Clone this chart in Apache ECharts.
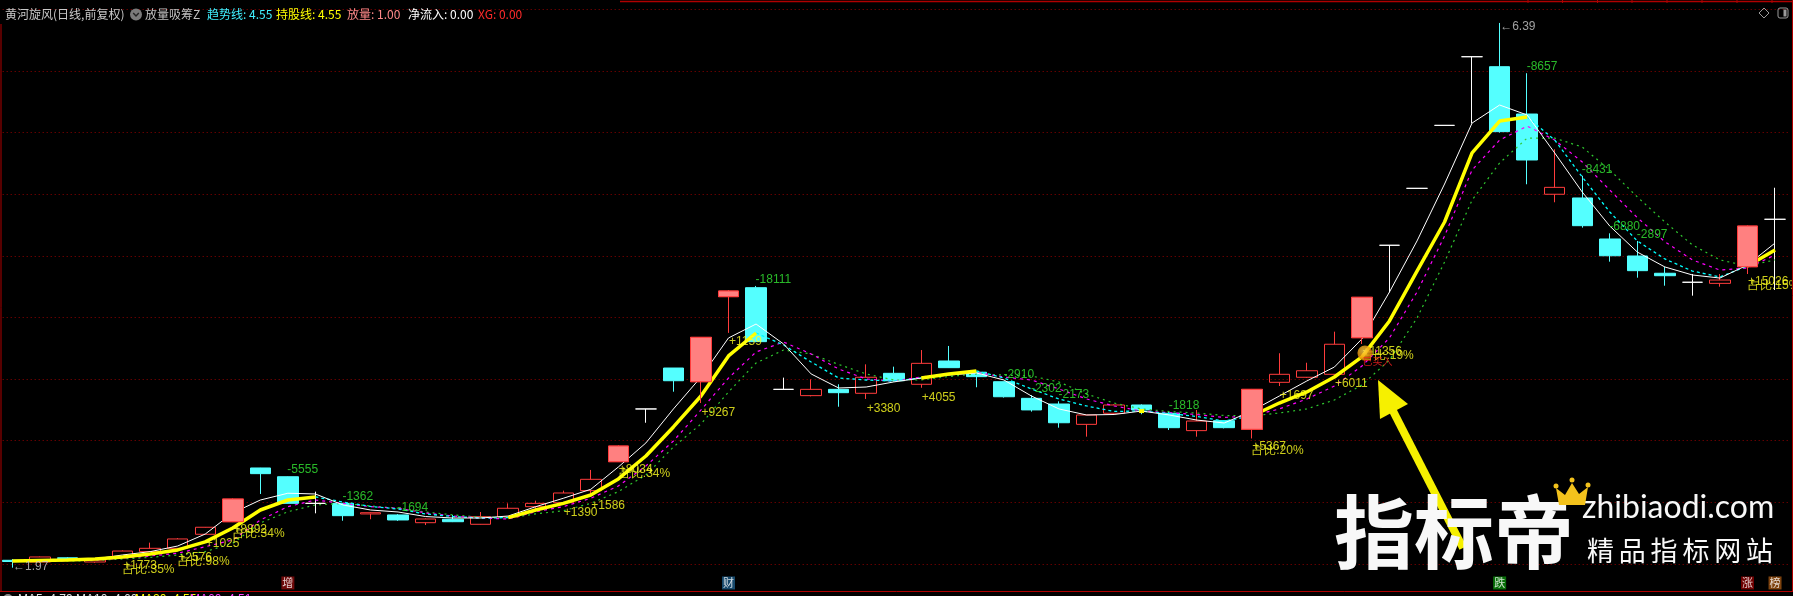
<!DOCTYPE html>
<html><head><meta charset="utf-8">
<script src="https://cdn.jsdelivr.net/npm/echarts@6/dist/echarts.min.js"></script>
<style>html,body{margin:0;padding:0;background:#000;overflow:hidden}#c{width:1793px;height:596px}</style>
</head><body><div id="c"></div>
<script>
// ---- data ----
const categories = ['1','2','3','4','5','6','7','8','9','10','11','12','13','14','15','16','17','18','19','20','21','22','23','24','25','26','27','28','29','30','31','32','33','34','35','36','37','38','39','40','41','42','43','44','45','46','47','48','49','50','51','52','53','54','55','56','57','58','59','60','61','62','63','64','65'];
const openP  = [2.03,2.016,2.05,2.016,2.057,2.10,2.127,2.241,2.343,2.779, 2.708,2.492,2.492,2.406,2.398,2.335,2.363,2.322,2.381,2.465, 2.497,2.595,2.83,3.258,3.59,3.479,4.169,4.242,3.417,3.366, 3.417,3.385,3.547,3.458,3.647,3.556,3.479,3.344,3.298,3.133, 3.223,3.29,3.223,3.082,3.163,3.093,3.474,3.515,3.539,3.836, 4.586,5.048,5.559,6.116,6.035,5.651,5.0,4.97,4.637,4.499, 4.359,4.286,4.277,4.412,4.797];
const closeP = [2.02,2.057,2.045,2.032,2.105,2.127,2.203,2.298,2.527,2.733, 2.492,2.492,2.392,2.416,2.357,2.365,2.343,2.384,2.452,2.492, 2.576,2.687,2.957,3.258,3.487,3.839,4.215,3.804,3.417,3.417, 3.39,3.515,3.487,3.628,3.593,3.52,3.357,3.25,3.146,3.209, 3.29,3.25,3.106,3.16,3.106,3.417,3.539,3.568,3.783,4.164, 4.586,5.048,5.559,6.116,5.508,5.278,5.056,4.745,4.501,4.38, 4.339,4.286,4.304,4.742,4.797];
const lowP   = [1.97,2.01,2.04,2.01,2.05,2.10,2.12,2.241,2.34,2.568, 2.49,2.411,2.351,2.363,2.35,2.316,2.34,2.32,2.38,2.446, 2.495,2.55,2.83,3.146,3.398,3.306,3.877,3.80,3.417,3.36, 3.276,3.339,3.48,3.43,3.59,3.434,3.35,3.236,3.106,3.033, 3.22,3.215,3.087,3.033,3.10,3.02,3.444,3.51,3.539,3.785, 4.204,5.048,5.559,5.576,5.50,5.081,4.935,4.729,4.453,4.323, 4.258,4.177,4.25,4.353,4.223];
const highP  = [2.04,2.06,2.055,2.035,2.11,2.173,2.21,2.30,2.53,2.78, 2.71,2.587,2.495,2.42,2.405,2.37,2.398,2.422,2.492,2.514, 2.595,2.763,2.96,3.258,3.59,3.84,4.22,4.256,3.512,3.498, 3.458,3.62,3.601,3.736,3.769,3.56,3.48,3.37,3.32,3.21, 3.295,3.295,3.235,3.25,3.165,3.42,3.71,3.633,3.885,4.165, 4.586,5.048,5.559,6.116,6.39,5.982,5.365,5.15,4.683,4.621, 4.412,4.353,4.353,4.745,5.053];
const whiteLine   = [2.024,2.028,2.032,2.041,2.073,2.100,2.146,2.243,2.414,2.519, 2.574,2.568,2.479,2.438,2.422,2.385,2.373,2.373,2.389,2.465, 2.533,2.606,2.787,2.982,3.258,3.517,3.834,3.947,3.785,3.542, 3.428,3.436,3.477,3.509,3.533,3.550,3.493,3.363,3.258,3.209, 3.213,3.241,3.209,3.168,3.144,3.241,3.363,3.485,3.598,3.826, 4.207,4.621,5.083,5.578,5.724,5.643,5.335,5.018,4.742,4.531, 4.410,4.345,4.320,4.426,4.604];
const trendLine   = [2.024,2.028,2.032,2.041,2.057,2.081,2.114,2.179,2.292,2.438, 2.519,2.544,2.503,2.467,2.446,2.406,2.385,2.373,2.376,2.438, 2.492,2.560,2.690,2.876,3.112,3.363,3.688,3.874,3.777,3.639, 3.509,3.493,3.485,3.509,3.542,3.566,3.509,3.420,3.339,3.282, 3.238,3.241,3.221,3.197,3.160,3.201,3.306,3.396,3.517,3.680, 3.972,4.377,4.775,5.335,5.594,5.627,5.440,5.140,4.856,4.621, 4.475,4.377,4.329,4.418,4.548];
const magentaLine = [2.020,2.024,2.028,2.032,2.049,2.065,2.087,2.140,2.195,2.357, 2.465,2.519,2.492,2.465,2.452,2.414,2.389,2.373,2.365,2.424, 2.465,2.533,2.633,2.795,2.998,3.250,3.509,3.720,3.801,3.704, 3.582,3.501,3.485,3.517,3.546,3.554,3.517,3.493,3.420,3.339, 3.282,3.241,3.228,3.213,3.189,3.201,3.258,3.339,3.444,3.606, 3.834,4.207,4.661,5.197,5.440,5.553,5.440,5.262,5.034,4.810, 4.615,4.467,4.385,4.402,4.507];
const greenLine   = [2.020,2.024,2.024,2.028,2.041,2.053,2.073,2.100,2.168,2.333, 2.424,2.479,2.492,2.471,2.452,2.422,2.398,2.381,2.373,2.406, 2.432,2.492,2.587,2.722,2.949,3.136,3.396,3.631,3.736,3.704, 3.619,3.542,3.493,3.493,3.521,3.542,3.533,3.525,3.477,3.379, 3.306,3.258,3.237,3.225,3.205,3.201,3.225,3.258,3.331,3.452, 3.655,3.996,4.450,4.953,5.254,5.456,5.456,5.383,5.197,4.978, 4.775,4.589,4.467,4.418,4.467];
const pinkCandles = [8,22,25,26,45,49,63];
const outflowLabels = [[10,'-5555'],[12,'-1362'],[14,'-1694'],[27,'-18111'],[36,'-2910'],[37,'-2302'],[38,'-2173'],[42,'-1818'],[55,'-8657'],[57,'-8431'],[58,'-6880'],[59,'-2897']];
const inflowLabels = [[4,'+1773','占比:35%'],[6,'+2576','占比:98%'],[7,'+1025',null],[8,'+8892','占比:34%'],[20,'+1390',null],[21,'+1586',null],[22,'+8034','占比:34%'],[25,'+9267',null],[26,'+1159',null],[31,'+3380',null],[33,'+4055',null],[45,'+5367','占比:20%'],[46,'+1697',null],[48,'+6011',null],[49,'+11356','占比:19%'],[63,'+15026','占比:15%']];
const buySignal = [[49,'已买入']];
const bottomTags = [[10,'增'],[26,'财'],[54,'跌'],[63,'涨'],[64,'榜']];
const headerItems = [['黄河旋风(日线,前复权)','#c8c8c8'],['放量吸筹Z','#c0c0c0'],['趋势线: 4.55','#40f0ff'],['持股线: 4.55','#ffff00'],['放量: 1.00','#ff8a8a'],['净流入: 0.00','#ffffff'],['XG: 0.00','#ff2a2a']];

// ---- styles / layout ----
const tagBg = {'增':'#8a0c0c','财':'#1c5a86','跌':'#0a8a0a','涨':'#8a0000','榜':'#9c5212'};
const headerX = [5,145,207,276,347,408,478];
const TAG_PRICE = 1.846;
const n = categories.length;
const up = trendLine.map((v,i)=> i===0 || v > trendLine[i-1]);
const yellowData = trendLine.map((v,i)=>{
  if(!up[i]) return null;
  const iso = !(i>0 && up[i-1]) && !(i<n-1 && up[i+1]);
  return iso ? {value:v, symbol:'rect', symbolSize:[5,4]} : v;
});
const segCyan = i => !(up[i] && up[i+1]);
const cyanData = trendLine.map((v,i)=> ((i>0 && segCyan(i-1)) || (i<n-1 && segCyan(i))) ? v : null);
const kData = categories.map((c,i)=>{
  const v=[openP[i],closeP[i],lowP[i],highP[i]];
  if(openP[i]===closeP[i]) return {value:v,itemStyle:{color:'#fff',color0:'#fff',borderColor:'#fff',borderColor0:'#fff'}};
  return v;
});
const pinkData = categories.map((c,i)=> pinkCandles.includes(i) ? [openP[i],closeP[i],lowP[i],highP[i]] : ['-','-','-','-']);
const outData = outflowLabels.map(([i,t])=>({name:t,value:[i,highP[i]]}));
const inData = [];
inflowLabels.forEach(([i,t,p])=>{
  if(p){ inData.push({name:t,value:[i,lowP[i]],label:{offset:[1,2.5]}}); inData.push({name:p,value:[i,lowP[i]],label:{offset:[1,6.5]}}); }
  else inData.push({name:t,value:[i,lowP[i]],label:{offset:[1,4]}});
});
const lowIdx = lowP.indexOf(Math.min(...lowP));
const highIdx = highP.indexOf(Math.max(...highP));
const extremeData = [
  {name:'←'+lowP[lowIdx].toFixed(2), value:[lowIdx,lowP[lowIdx]], label:{offset:[1,0]}},
  {name:'←'+highP[highIdx].toFixed(2), value:[highIdx,highP[highIdx]], label:{offset:[1,4]}}
];
const tagData = bottomTags.map(([i,t])=>({name:t,value:[i,TAG_PRICE],label:{backgroundColor:tagBg[t]}}));
const buyData = buySignal.map(([i,t])=>({name:t,value:[i,lowP[i]]}));

const FONT = '"Liberation Sans", Arial, sans-serif';
const CJK = '"Noto Sans CJK SC", sans-serif';
const hidden = {color:'rgba(0,0,0,0)'};
function labelSeries(data, color, vAlign, extra){
  return Object.assign({type:'scatter', data, symbol:'circle', symbolSize:1, itemStyle:hidden, silent:true, z:8, clip:false,
    label:{show:true, formatter:p=>p.name, position:[0,0], align:'left', verticalAlign:vAlign, color, fontSize:12, fontFamily:FONT}}, extra||{});
}

// graphics
const G = [];
const frameColor = '#b00000';
G.push({type:'line', z:50, shape:{x1:1,y1:24,x2:1,y2:591}, style:{stroke:frameColor,lineWidth:1}});
G.push({type:'line', z:50, shape:{x1:0,y1:591.5,x2:1793,y2:591.5}, style:{stroke:frameColor,lineWidth:1}});
G.push({type:'line', z:50, shape:{x1:1792.5,y1:0,x2:1792.5,y2:591}, style:{stroke:frameColor,lineWidth:1}});
G.push({type:'line', z:50, shape:{x1:620,y1:1.5,x2:1793,y2:1.5}, style:{stroke:frameColor,lineWidth:1.5}});
[1528,1562.5,1597.5,1632,1667,1702,1737,1772].forEach(x=>G.push({type:'line',z:50,shape:{x1:x,y1:0,x2:x,y2:3},style:{stroke:frameColor,lineWidth:1}}));
headerItems.forEach(([t,c],k)=>G.push({type:'text', z:60, x:headerX[k], y:14.5, style:{text:t, fill:c, font:'12px '+CJK, verticalAlign:'middle', align:'left'}}));
G.push({type:'circle', z:60, shape:{cx:136,cy:14.5,r:6}, style:{fill:'#7a7a7a'}});
G.push({type:'polyline', z:61, shape:{points:[[133.2,13],[136,16],[138.8,13]]}, style:{stroke:'#222',lineWidth:1.4,fill:null}});
G.push({type:'polygon', z:60, shape:{points:[[1764,8],[1769,13],[1764,18],[1759,13]]}, style:{stroke:'#9a9a9a',fill:null,lineWidth:1}});
G.push({type:'rect', z:60, shape:{x:1778,y:8,width:10,height:10,r:2}, style:{stroke:'#9a9a9a',fill:null,lineWidth:1}});
G.push({type:'rect', z:60, shape:{x:1783.5,y:9.5,width:3,height:7}, style:{fill:'#9a9a9a'}});
// arrow
G.push({type:'line', z:90, shape:{x1:1463,y1:548,x2:1392,y2:409}, style:{stroke:'#f6f000',lineWidth:8}});
G.push({type:'polygon', z:90, shape:{points:[[1378,380],[1408,404],[1380,419]]}, style:{fill:'#f6f000'}});
// watermark
G.push({type:'text', z:95, x:1334, y:532, style:{text:'指标帝', fill:'#f8f8f8', font:'bold 80px '+CJK, verticalAlign:'middle', align:'left', shadowBlur:10, shadowColor:'rgba(255,255,255,0.55)'}});
G.push({type:'polygon', z:96, shape:{points:[[1559,505],[1556,488],[1565,495],[1572,483],[1579,494],[1588,487],[1585,505]]}, style:{fill:'#f3c21c'}});
[[1556,486],[1572,480],[1588,485]].forEach(([x,y])=>G.push({type:'circle',z:96,shape:{cx:x,cy:y,r:2.5},style:{fill:'#f3c21c'}}));
G.push({type:'text', z:95, x:1582, y:508, style:{text:'zhibiaodi.com', fill:'#f8f8f8', font:'32px Lato, sans-serif', verticalAlign:'middle', align:'left', shadowBlur:6, shadowColor:'rgba(255,255,255,0.4)'}});
'精品指标网站'.split('').forEach((ch,k)=>G.push({type:'text', z:95, x:1587+k*31.8, y:551, style:{text:ch, fill:'#f8f8f8', font:'27px '+CJK, verticalAlign:'middle', align:'left'}}));
// status row (cut off at the bottom edge)
G.push({type:'circle', z:60, shape:{cx:8,cy:599,r:5}, style:{fill:'#8a8a8a'}});
G.push({type:'text', z:60, x:18, y:594, style:{text:'MA5: 4.79 MA10: 4.60', fill:'#e0e0e0', font:'12px '+FONT, verticalAlign:'top'}});
G.push({type:'text', z:60, x:135, y:594, style:{text:'MA20: 4.55', fill:'#ffff00', font:'12px '+FONT, verticalAlign:'top'}});
G.push({type:'text', z:60, x:190, y:594, style:{text:'MA60: 4.51', fill:'#ff40ff', font:'12px '+FONT, verticalAlign:'top'}});

const chart = echarts.init(document.getElementById('c'));
chart.setOption({
  animation:false,
  backgroundColor:'#000',
  grid:{left:-1.3, width:1790.1, top:2, height:623.6, containLabel:false, outerBoundsMode:'none'},
  xAxis:{type:'category', data:categories, boundaryGap:true, axisLine:{show:false}, axisTick:{show:false}, axisLabel:{show:false}, splitLine:{show:false}},
  yAxis:{type:'value', min:1.5, max:6.56, interval:0.5, axisLine:{show:false}, axisTick:{show:false}, axisLabel:{show:false},
    splitLine:{show:true, showMinLine:false, showMaxLine:false, lineStyle:{color:'#900000', type:[1,3], width:1}}},
  graphic:G,
  series:[
    {type:'candlestick', data:kData, barWidth:21, silent:true, z:2,
      itemStyle:{color:'rgba(0,0,0,0)', color0:'#54ffff', borderColor:'#ff3c3c', borderColor0:'#54ffff', borderColorDoji:'#ffffff', borderWidth:1}},
    {type:'line', data:greenLine, symbol:'none', silent:true, z:3, lineStyle:{color:'#2fc82f', width:1.2, type:[2,4]}},
    {type:'line', data:magentaLine, symbol:'none', silent:true, z:3, lineStyle:{color:'#ff00ff', width:1.2, type:[3,4]}},
    {type:'line', data:cyanData, symbol:'none', silent:true, z:3, connectNulls:false, lineStyle:{color:'#00ffff', width:1.3, type:[3,3]}},
    {type:'line', data:whiteLine, symbol:'none', silent:true, z:3, lineStyle:{color:'#ffffff', width:1}},
    {type:'line', data:yellowData, symbol:'none', showAllSymbol:true, silent:true, z:4, connectNulls:false, itemStyle:{color:'#ffff00'}, lineStyle:{color:'#ffff00', width:3.5}},
    {type:'candlestick', data:pinkData, barWidth:21, silent:true, z:5,
      itemStyle:{color:'#ff8080', color0:'#ff8080', borderColor:'#ff3c3c', borderColor0:'#ff3c3c', borderWidth:1}},
    labelSeries(outData, '#33e633', 'bottom'),
    labelSeries(inData, '#ffff22', 'top'),
    labelSeries(extremeData, '#c8c8c8', 'middle'),
    Object.assign(labelSeries(buyData, '#ff2020', 'top'), {z:9, label:{show:true, formatter:p=>p.name, position:[0,0], align:'left', verticalAlign:'top', offset:[1,13], color:'#ff2020', fontSize:10, fontFamily:CJK}}),
    {type:'scatter', data:buySignal.map(([i])=>[i,lowP[i]]), symbol:'circle', symbolSize:15, symbolOffset:[3,9], silent:true, z:9,
      itemStyle:{color:{type:'radial',x:0.4,y:0.35,r:0.7,colorStops:[{offset:0,color:'#ffd24a'},{offset:0.6,color:'#f09a10'},{offset:1,color:'#c05a00'}]}}},
    {type:'scatter', data:tagData, symbol:'circle', symbolSize:1, itemStyle:hidden, silent:true, z:8,
      label:{show:true, formatter:p=>p.name, position:'inside', color:'#ffffff', fontSize:11, fontFamily:CJK, padding:[1,1,0,1], lineHeight:12}}
  ]
});
</script></body></html>
